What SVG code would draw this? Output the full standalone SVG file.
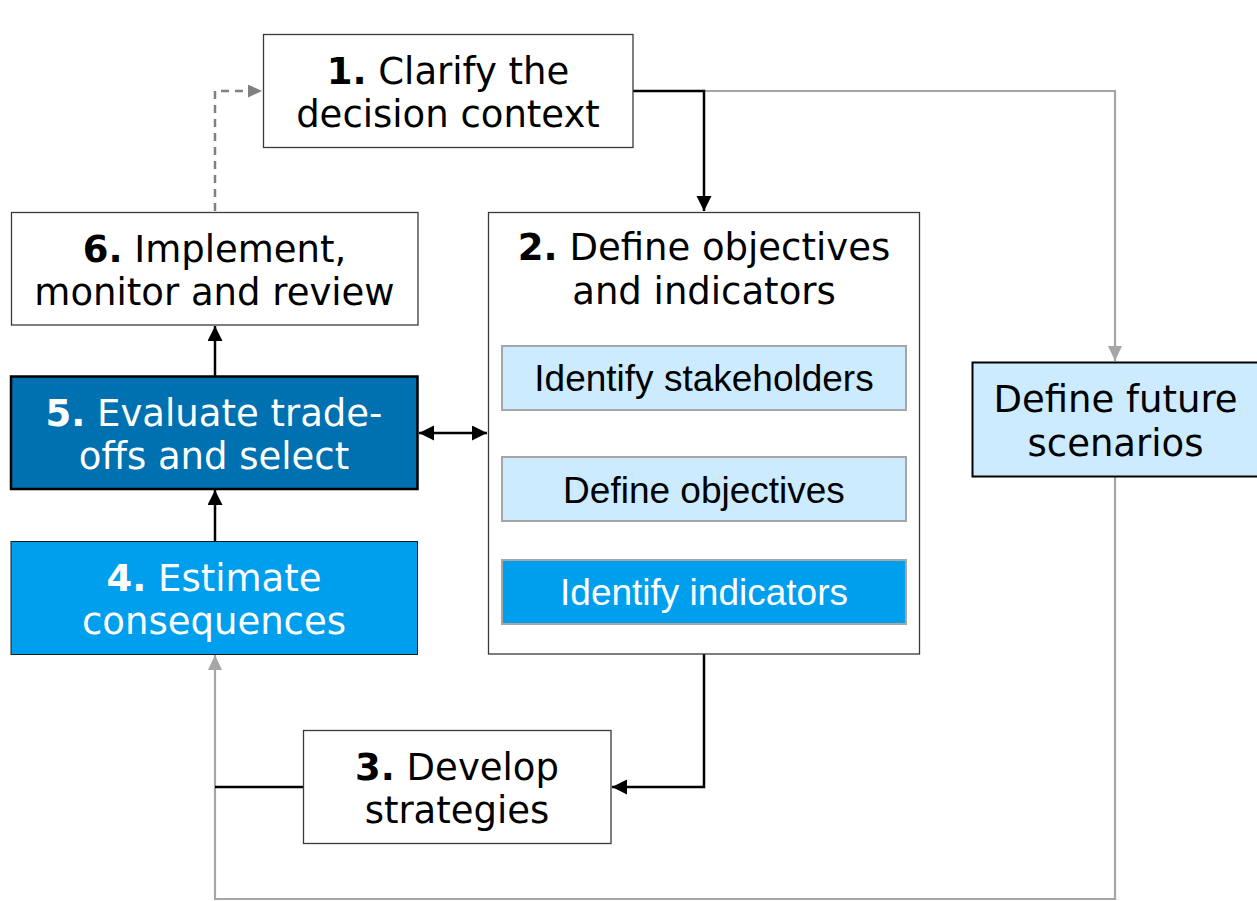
<svg xmlns="http://www.w3.org/2000/svg" width="1257" height="901" viewBox="0 0 1257 901">
<style>
.t{font-family:"DejaVu Sans","Verdana",sans-serif;font-size:37px;text-anchor:middle;fill:#000}
.a{font-family:"Liberation Sans",Arial,sans-serif;font-size:37px;text-anchor:middle;fill:#000}
.b{font-weight:bold}
.box{fill:#fff;stroke:#3a3a3a;stroke-width:1.3}
.inner{fill:#CCEBFF;stroke:#A6A6A6;stroke-width:2}
.blk{fill:none;stroke:#000;stroke-width:2.5}
.gry{fill:none;stroke:#A6A6A6;stroke-width:2.2}
.dsh{fill:none;stroke:#808080;stroke-width:2.5;stroke-dasharray:8,6}
text.w{fill:#fff}
</style>
<defs>
<marker id="ab" markerUnits="userSpaceOnUse" markerWidth="16" markerHeight="16" refX="15" refY="7.5" orient="auto-start-reverse"><path d="M0,0 L15,7.5 L0,15 z" fill="#000"/></marker>
<marker id="ag" markerUnits="userSpaceOnUse" markerWidth="16" markerHeight="16" refX="15" refY="7" orient="auto"><path d="M0,0 L15,7 L0,14 z" fill="#A6A6A6"/></marker>
<marker id="ad" markerUnits="userSpaceOnUse" markerWidth="16" markerHeight="16" refX="14" refY="6.5" orient="auto"><path d="M0,0 L14,6.5 L0,13 z" fill="#808080"/></marker>
</defs>
<rect width="1257" height="901" fill="#fff"/>
<g id="connectors">
<path class="gry" d="M704,91 H1115 V361" marker-end="url(#ag)"/>
<path class="gry" d="M1115,477 V899 H215 V655" marker-end="url(#ag)"/>
<path class="blk" d="M633,91 H704 V211" marker-end="url(#ab)"/>
<path class="blk" d="M704,654 V787 H612" marker-end="url(#ab)"/>
<path class="blk" d="M303,787 H215"/>
<path class="blk" d="M215,541 V490" marker-end="url(#ab)"/>
<path class="blk" d="M215,376 V326" marker-end="url(#ab)"/>
<path class="blk" d="M419,433 H487" marker-start="url(#ab)" marker-end="url(#ab)"/>
<path class="dsh" d="M215,211 V91 H262" marker-end="url(#ad)"/>
</g>
<g id="n1">
<rect class="box" x="263.5" y="34.5" width="369.5" height="113"/>
<text class="t" x="448" y="84"><tspan class="b">1.</tspan> Clarify the</text>
<text class="t" x="448" y="127">decision context</text>
</g>
<g id="n2">
<rect class="box" x="488.5" y="212.5" width="431" height="441.5"/>
<text class="t" x="704" y="260"><tspan class="b">2.</tspan> Define objectives</text>
<text class="t" x="704" y="304">and indicators</text>
</g>
<g id="n2a">
<rect class="inner" x="502" y="346" width="404" height="64"/>
<text class="a" x="704" y="391">Identify stakeholders</text>
</g>
<g id="n2b">
<rect class="inner" x="502" y="457" width="404" height="64"/>
<text class="a" x="704" y="503">Define objectives</text>
</g>
<g id="n2c">
<rect class="inner" x="502" y="560" width="404" height="64" style="fill:#009FEE"/>
<text class="a w" x="704" y="605">Identify indicators</text>
</g>
<g id="n3">
<rect class="box" x="303.5" y="730.5" width="307.5" height="113"/>
<text class="t" x="457" y="780"><tspan class="b">3.</tspan> Develop</text>
<text class="t" x="457" y="823">strategies</text>
</g>
<g id="n4">
<rect x="11" y="541.5" width="406.5" height="113" fill="#009FEE" stroke="#1a1a1a" stroke-width="1"/>
<text class="t w" x="214" y="591"><tspan class="b">4.</tspan> Estimate</text>
<text class="t w" x="214" y="634">consequences</text>
</g>
<g id="n5">
<rect x="11" y="376.5" width="406.5" height="112.5" fill="#0071B0" stroke="#000" stroke-width="2.5"/>
<text class="t w" x="214" y="426"><tspan class="b">5.</tspan> Evaluate trade-</text>
<text class="t w" x="214" y="469">offs and select</text>
</g>
<g id="n6">
<rect class="box" x="11.5" y="212.5" width="406.5" height="112.5"/>
<text class="t" x="214.5" y="262"><tspan class="b">6.</tspan> Implement,</text>
<text class="t" x="214.5" y="305">monitor and review</text>
</g>
<g id="n7">
<rect x="972.5" y="362.5" width="290" height="114" fill="#CCEBFF" stroke="#000" stroke-width="2"/>
<text class="t" x="1115.5" y="412">Define future</text>
<text class="t" x="1115.5" y="456">scenarios</text>
</g>
</svg>
